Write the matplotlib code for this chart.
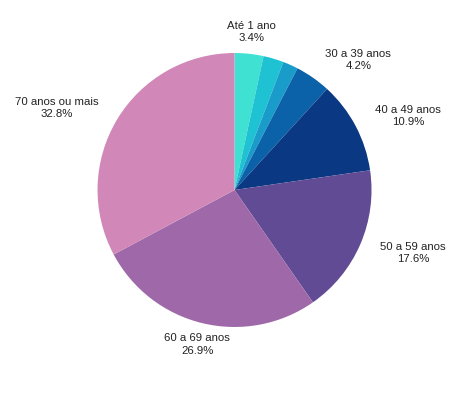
import matplotlib
matplotlib.use("Agg")
import matplotlib.pyplot as plt
import numpy as np

categories = ["Até 1 ano", "1 a 19 anos", "20 a 29 anos", "30 a 39 anos",
              "40 a 49 anos", "50 a 59 anos", "60 a 69 anos", "70 anos ou mais"]
values = [3.4, 2.4, 1.8, 4.2, 10.9, 17.6, 26.9, 32.8]
show_label = [True, False, False, True, True, True, True, True]
colors = ["#3fe2d2", "#1fc2d3", "#1a9ccb", "#0b62a8",
          "#0b3882", "#604b94", "#9f69a9", "#d188b8"]

plt.rcParams["font.family"] = ["Liberation Sans", "DejaVu Sans"]

fig = plt.figure(figsize=(4.77, 4.0), dpi=100)
ax = fig.add_axes([0, 0, 1, 1])
wedges, _ = ax.pie(values, colors=colors, startangle=90, counterclock=False,
                   wedgeprops=dict(linewidth=0))

# labels outside each wedge, horizontal alignment by side
for w, cat, val, show in zip(wedges, categories, values, show_label):
    if not show:
        continue
    ang = np.deg2rad((w.theta1 + w.theta2) / 2)
    x, y = np.cos(ang), np.sin(ang)
    r = 1.16
    if abs(x) < 0.3:
        ha = "center"
    elif x > 0:
        ha = "left"
    else:
        ha = "right"
    ax.text(r * x, r * y, f"{cat}\n{val}%", ha=ha, va="center",
            fontsize=8.2, color="#222222", linespacing=1.27, multialignment="center")

ax.set_xlim(-1.712, 1.770)
ax.set_ylim(-1.533, 1.387)
ax.axis("off")
fig.savefig("out.png", dpi=100)
